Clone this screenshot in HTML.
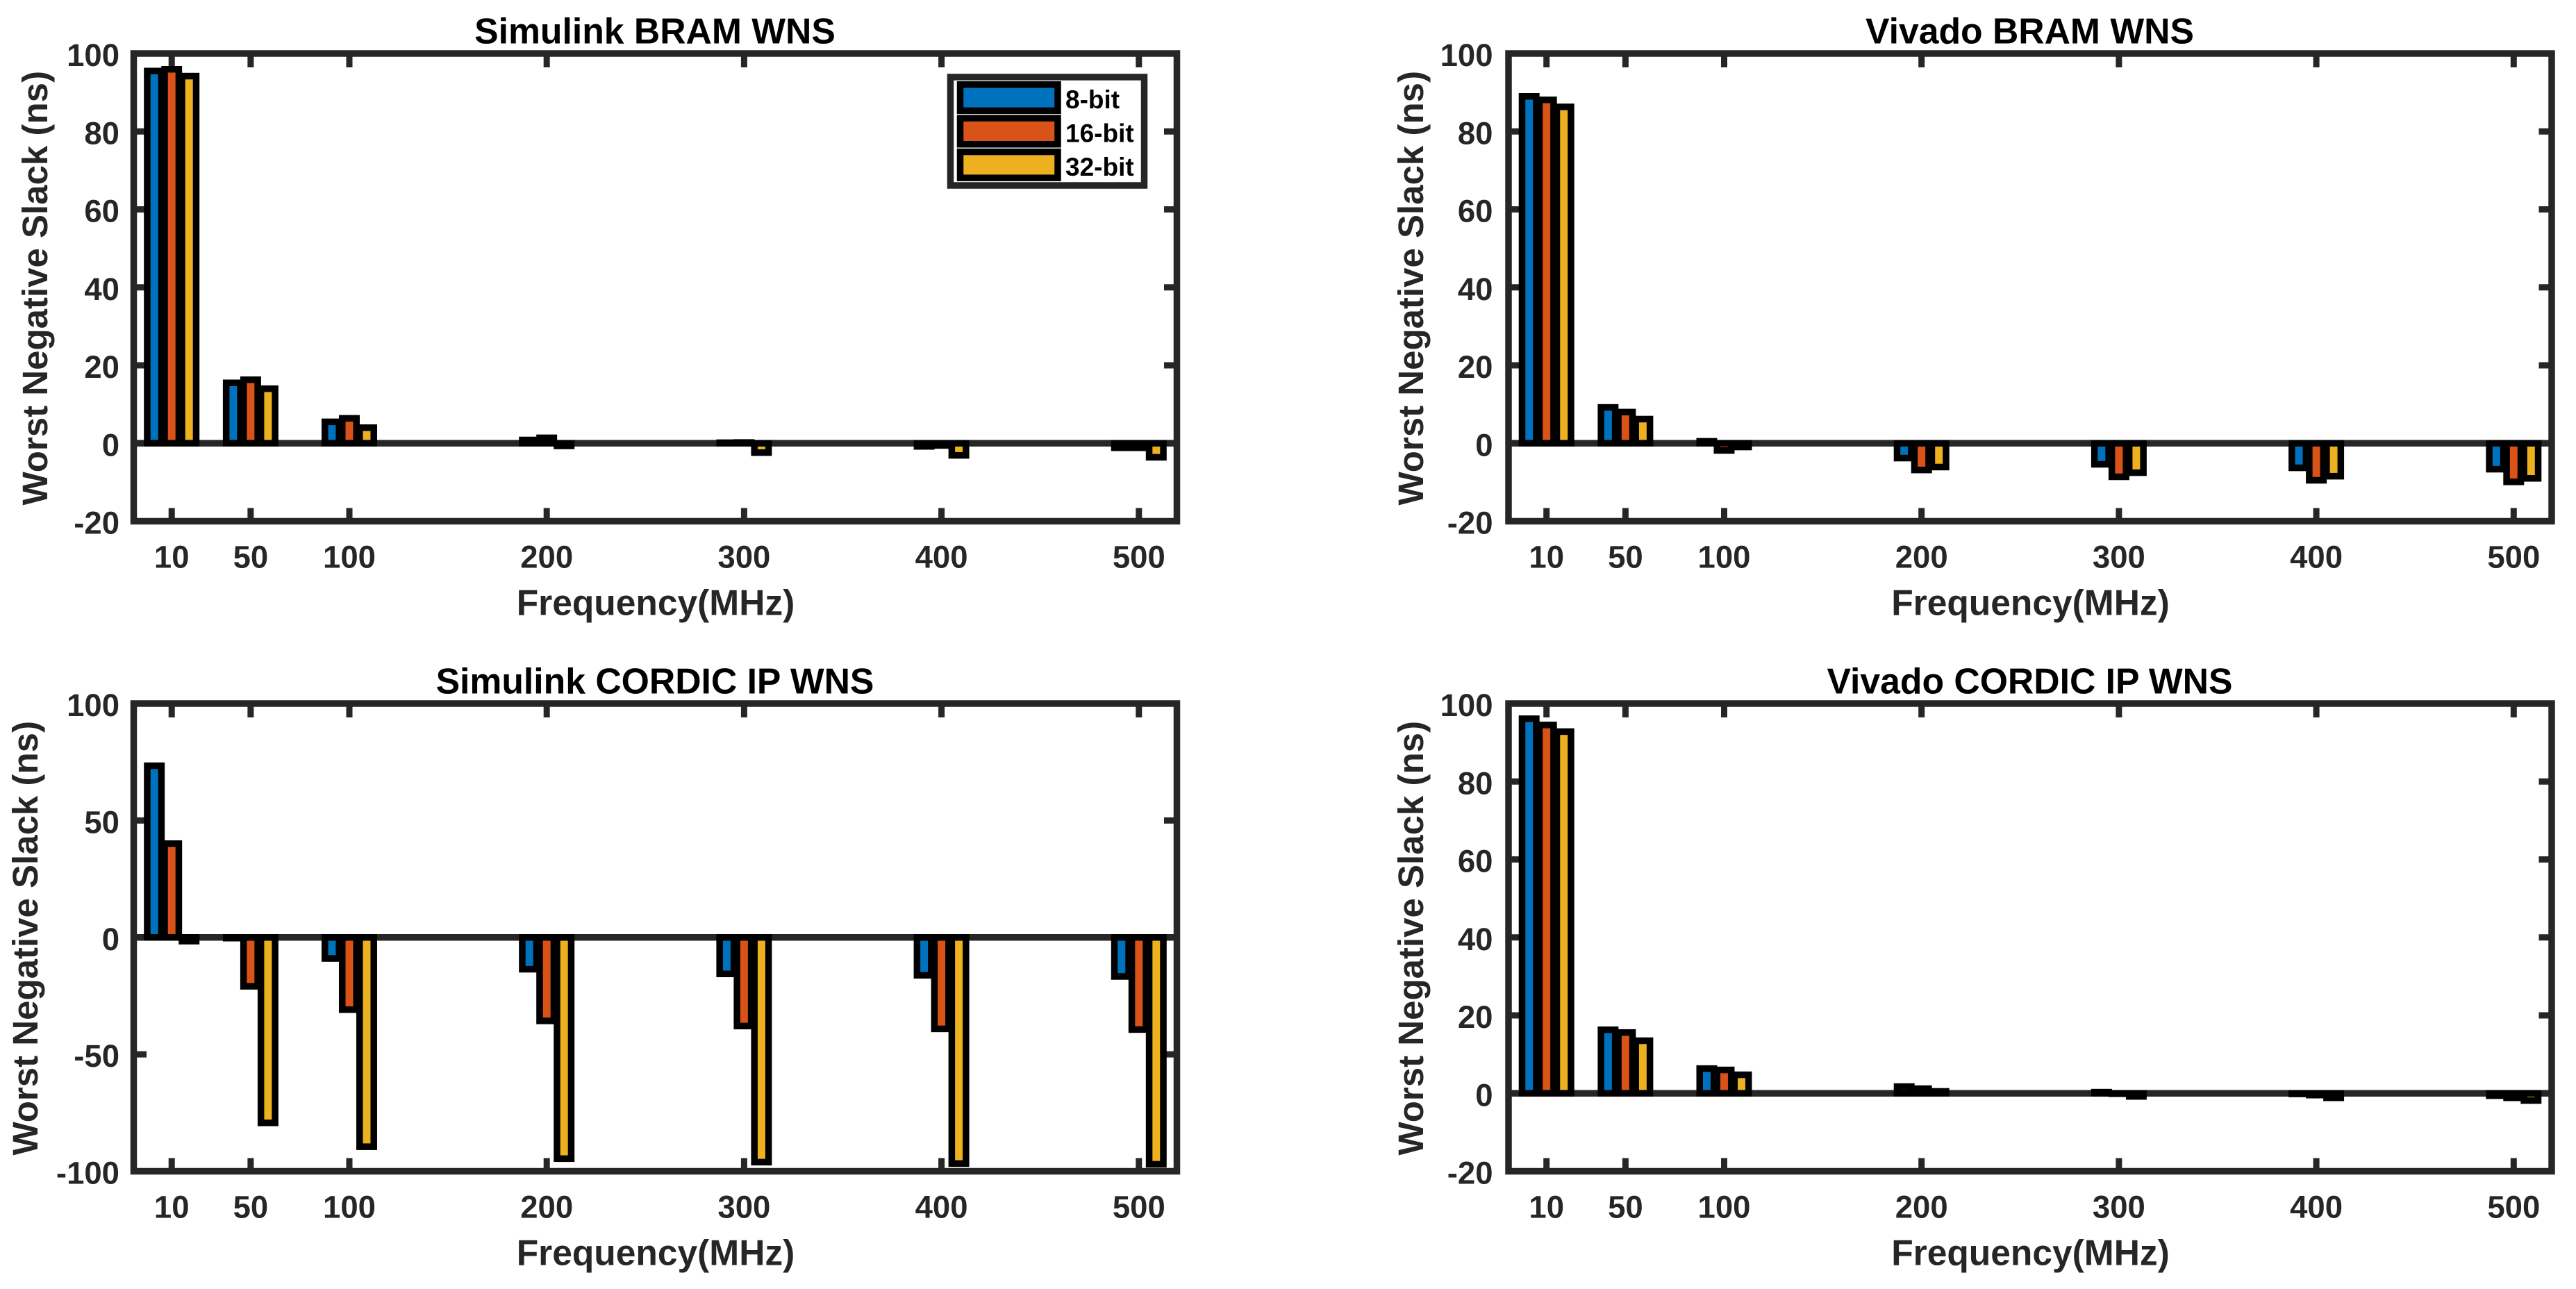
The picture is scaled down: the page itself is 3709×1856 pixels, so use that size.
<!DOCTYPE html>
<html lang="en">
<head>
<meta charset="utf-8">
<title>Worst Negative Slack charts</title>
<style>
html,body{margin:0;padding:0;background:#fff;width:3709px;height:1856px;overflow:hidden}
svg{display:block}
text{font-family:"Liberation Sans",sans-serif;font-weight:bold}
</style>
</head>
<body>
<svg id="figure" xmlns="http://www.w3.org/2000/svg" width="3709" height="1856" viewBox="0 0 3709 1856"></svg>
<script>
// ---- data ----
const frequencies = [10, 50, 100, 200, 300, 400, 500];
const seriesNames = ['8-bit', '16-bit', '32-bit'];
const ticksBram = [-20, 0, 20, 40, 60, 80, 100];
const ticksCordic = [-100, -50, 0, 50, 100];

const simBram8 = [95.5, 15.5, 5.5, 0.85, 0.15, -0.8, -1.15];
const simBram16 = [95.95, 16.3, 6.4, 1.4, 0.2, -0.55, -1.15];
const simBram32 = [94.2, 14.0, 4.0, -0.67, -2.4, -3.1, -3.6];

const vivBram8 = [89.0, 9.2, 0.5, -3.8, -5.4, -6.3, -6.65];
const vivBram16 = [88.1, 8.0, -1.85, -6.85, -8.6, -9.5, -9.9];
const vivBram32 = [86.3, 6.2, -0.95, -6.1, -7.55, -8.45, -9.0];

const simCordic8 = [73.4, -0.3, -9.0, -13.6, -15.6, -16.2, -16.7];
const simCordic16 = [40.1, -20.9, -30.9, -35.7, -37.9, -39.1, -39.4];
const simCordic32 = [-1.6, -79.3, -89.5, -94.6, -96.1, -96.7, -97.0];

const vivCordic8 = [96.1, 16.3, 6.35, 1.73, 0.3, -0.15, -0.6];
const vivCordic16 = [94.5, 15.6, 6.0, 1.2, -0.1, -0.45, -1.15];
const vivCordic32 = [92.8, 13.5, 4.76, 0.5, -0.8, -1.15, -1.85];

// ---- layout ----
const SVGNS = 'http://www.w3.org/2000/svg';
const figure = document.getElementById('figure');
const COLORS = ['#0072BD', '#D95319', '#EDB120'];
const AXIS = '#262626';
const LW = 9.5;
const X_MIN = -9.25, X_MAX = 519.25, AXIS_W = 1502, AXIS_H = 673.5;
const BAR_OFFSET = 8.8, BAR_W = 7.2;

function node(tag, parent) {
  const el = document.createElementNS(SVGNS, tag);
  parent.appendChild(el);
  return el;
}
function line(parent, x1, y1, x2, y2, w) {
  const el = node('line', parent);
  el.setAttribute('x1', x1); el.setAttribute('y1', y1);
  el.setAttribute('x2', x2); el.setAttribute('y2', y2);
  el.setAttribute('stroke', AXIS); el.setAttribute('stroke-width', w);
  return el;
}
function label(parent, x, y, size, anchor, color, str) {
  const el = node('text', parent);
  el.setAttribute('x', x); el.setAttribute('y', y);
  el.setAttribute('font-size', size);
  el.setAttribute('text-anchor', anchor);
  el.setAttribute('fill', color);
  el.textContent = str;
  return el;
}

function drawPanel(cfg) {
  const g = node('g', figure);
  
  
  const L = cfg.left, T = cfg.top, R = L + AXIS_W, B = T + AXIS_H;
  const yMin = cfg.ticks[0], yMax = cfg.ticks[cfg.ticks.length - 1];
  const xScale = f => L + (f - X_MIN) / (X_MAX - X_MIN) * AXIS_W;
  const yScale = v => B - (v - yMin) / (yMax - yMin) * AXIS_H;

  // zero baseline
  const base = line(g, L, yScale(0), R, yScale(0), LW);
  
  

  // ticks
  frequencies.forEach(f => {
    const xt = xScale(f);
    const t1 = line(g, xt, T, xt, T + 20, 9);
    
    
    const t2 = line(g, xt, B, xt, B - 19, 9);
    
    
    const tl = label(g, xt, B + 67, 45.5, 'middle', AXIS, String(f));
    
    
  });
  cfg.ticks.forEach(v => {
    const yt = yScale(v);
    const t1 = line(g, L, yt, L + 18.5, yt, 9);
    
    
    const t2 = line(g, R, yt, R - 18.5, yt, 9);
    
    
    const tl = label(g, L - cfg.tickGap, yt + 18, 45.5, 'end', AXIS, String(v));
    
    
  });

  // bars
  const pxOffset = BAR_OFFSET / (X_MAX - X_MIN) * AXIS_W;
  const pxWidth = BAR_W / (X_MAX - X_MIN) * AXIS_W;
  cfg.series.forEach((vals, s) => {
    const sg = node('g', g);
    
    
    vals.forEach((v, i) => {
      const cx = xScale(frequencies[i]) + (s - 1) * pxOffset;
      const y0 = yScale(0), yv = yScale(v);
      const r = node('rect', sg);
      
      
      r.setAttribute('x', cx - pxWidth / 2);
      r.setAttribute('y', Math.min(y0, yv));
      r.setAttribute('width', pxWidth);
      r.setAttribute('height', Math.abs(y0 - yv));
      r.setAttribute('fill', COLORS[s]);
      r.setAttribute('stroke', '#000');
      r.setAttribute('stroke-width', LW);
    });
  });

  // frame
  const fr = node('rect', g);
  
  
  fr.setAttribute('x', L); fr.setAttribute('y', T);
  fr.setAttribute('width', AXIS_W); fr.setAttribute('height', AXIS_H);
  fr.setAttribute('fill', 'none');
  fr.setAttribute('stroke', AXIS);
  fr.setAttribute('stroke-width', LW);

  // titles
  const title = label(g, L + AXIS_W / 2 - 0.5, T - 14.5, 51.7, 'middle', '#000', cfg.title);
  
  
  const xl = label(g, L + AXIS_W / 2 + 0.5, B + 135, 51.5, 'middle', AXIS, 'Frequency(MHz)');
  
  
  const yl = label(g, 0, 0, 51, 'middle', AXIS, 'Worst Negative Slack (ns)');
  
  
  yl.setAttribute('transform', 'translate(' + cfg.yTitleX + ' ' + (T + AXIS_H / 2 + 1) + ') rotate(-90)');
}

drawPanel({ id: 'simulink-bram', title: 'Simulink BRAM WNS', left: 192.5, top: 77, tickGap: 20.5, yTitleX: 68,
  ticks: ticksBram, series: [simBram8, simBram16, simBram32] });
drawPanel({ id: 'vivado-bram', title: 'Vivado BRAM WNS', left: 2172, top: 77, tickGap: 22.5, yTitleX: 2049,
  ticks: ticksBram, series: [vivBram8, vivBram16, vivBram32] });
drawPanel({ id: 'simulink-cordic', title: 'Simulink CORDIC IP WNS', left: 192.5, top: 1013, tickGap: 20.5, yTitleX: 54,
  ticks: ticksCordic, series: [simCordic8, simCordic16, simCordic32] });
drawPanel({ id: 'vivado-cordic', title: 'Vivado CORDIC IP WNS', left: 2172, top: 1013, tickGap: 22.5, yTitleX: 2049,
  ticks: ticksBram, series: [vivCordic8, vivCordic16, vivCordic32] });

// legend
const legend = node('g', figure);


const legendBox = node('rect', legend);


legendBox.setAttribute('x', 1368.5); legendBox.setAttribute('y', 111);
legendBox.setAttribute('width', 279); legendBox.setAttribute('height', 156);
legendBox.setAttribute('fill', '#fff');
legendBox.setAttribute('stroke', AXIS);
legendBox.setAttribute('stroke-width', LW);
seriesNames.forEach((name, s) => {
  const entryTop = 121.75 + s * 48.4;
  const sw = node('rect', legend);
  
  
  sw.setAttribute('x', 1382.5); sw.setAttribute('y', entryTop);
  sw.setAttribute('width', 140.5); sw.setAttribute('height', 37.6);
  sw.setAttribute('fill', COLORS[s]);
  sw.setAttribute('stroke', '#000');
  sw.setAttribute('stroke-width', LW);
  const tx = label(legend, 1534, entryTop + 34.3, 37, 'start', '#000', name);
  
  
});
</script>
</body>
</html>
